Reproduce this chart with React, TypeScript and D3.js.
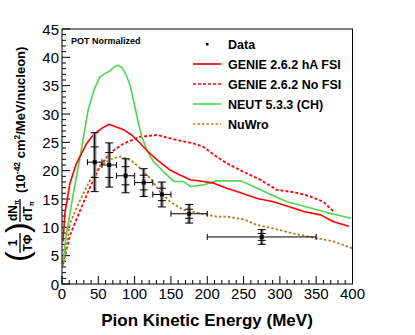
import React from 'react';
import * as d3 from 'd3';

// GENIE 2.6.2 hA FSI (red solid)
const haX = [1.5, 4, 11, 20, 34, 43, 55, 65, 73, 85, 96, 108, 119, 131, 149, 163, 177, 195, 209, 227, 246, 269, 291, 314, 333, 356, 374, 395];
const haY = [7.5, 12.5, 17.8, 21.3, 24.8, 26.3, 27.5, 28.2, 27.8, 27.2, 26.3, 24.8, 23.3, 21.9, 20.1, 19.2, 18.4, 18.1, 17.8, 16.9, 16.1, 15.1, 14.5, 13.6, 12.8, 12.2, 11.0, 10.2];

// GENIE 2.6.2 No FSI (red dashed)
const noFsiX = [1.5, 11, 25, 39, 52, 66, 85, 108, 131, 158, 181, 195, 209, 227, 250, 273, 296, 319, 333, 347, 360, 374];
const noFsiY = [3.5, 8.6, 13, 17.2, 20.7, 23.1, 24.8, 26, 26.3, 25.4, 24.8, 24.2, 22.8, 21.3, 19.8, 18.4, 16.6, 16.2, 15.8, 15.2, 14.5, 12.8];

// NEUT 5.3.3 (CH) (green)
const neutX = [1.5, 5.5, 15, 25, 36, 44, 52, 60, 66, 72, 77, 82, 88, 94, 100, 105, 110, 117, 126, 140, 154, 167, 177, 195, 213, 246, 264, 282, 310, 337, 365, 398];
const neutY = [4, 8.3, 15.5, 22.5, 30.7, 34.2, 36.5, 37.2, 37.6, 38.3, 38.6, 38.3, 37, 35, 31.5, 28.5, 26, 23.6, 21.6, 19.8, 18.1, 18.1, 17.2, 17.5, 18.2, 18.2, 17.2, 16.1, 14.5, 13.6, 12.6, 11.6];

// NuWro (brown dotted)
const nuwroX = [1.5, 11, 25, 39, 52, 66, 80, 94, 108, 121, 135, 149, 167, 200, 213, 227, 250, 269, 291, 319, 347, 374, 400];
const nuwroY = [3, 10.7, 14.8, 18.4, 20.7, 22, 22.5, 21.9, 20.4, 18.7, 16.3, 14.5, 13.1, 12.2, 11.9, 11.9, 11.4, 10.4, 9.8, 8.9, 8.2, 7.5, 6.3];

// Data
const dataX = [45, 65, 87.5, 112.5, 137.5, 175, 275];
const dataXLo = [35, 55, 75, 100, 125, 150, 200];
const dataXHi = [55, 75, 100, 125, 150, 200, 350];
const dataY = [21.5, 21.0, 19.1, 17.9, 15.8, 12.4, 8.3];
const statErr = [2.7, 2.2, 1.6, 1.3, 1.1, 0.8, 0.6];
const totErr = [5.2, 3.9, 3.0, 2.45, 2.2, 1.65, 1.3];

const xTicks = [0, 50, 100, 150, 200, 250, 300, 350, 400];
const yTicks = [0, 5, 10, 15, 20, 25, 30, 35, 40, 45];

const legendItems = [
  { label: 'Data', kind: 'data', color: '#000', dash: '' },
  { label: 'GENIE 2.6.2 hA FSI', kind: 'line', color: '#ff0000', dash: '' },
  { label: 'GENIE 2.6.2 No FSI', kind: 'line', color: '#ff0000', dash: '3,2' },
  { label: 'NEUT 5.3.3 (CH)', kind: 'line', color: '#4fd64f', dash: '' },
  { label: 'NuWro', kind: 'line', color: '#b08020', dash: '2.5,2' },
];

const W = 415, H = 335;
const left = 62, right = 352.5, top = 29, bottom = 284;

export default function App() {
  const x = d3.scaleLinear().domain([0, 400]).range([left, right]);
  const y = d3.scaleLinear().domain([0, 45]).range([bottom, top]);

  const mk = (xs: number[], ys: number[]) =>
    d3.line<number>().x((_, i) => x(xs[i])).y((d) => y(d))(ys) || '';

  const curves = [
    { d: mk(noFsiX, noFsiY), color: '#ff0000', dash: '3,2', w: 1.8 },
    { d: mk(nuwroX, nuwroY), color: '#b08020', dash: '2.5,2', w: 1.8 },
    { d: mk(neutX, neutY), color: '#4fd64f', dash: '', w: 1.6 },
    { d: mk(haX, haY), color: '#ff0000', dash: '', w: 1.6 },
  ];

  const xMinor = d3.range(0, 401, 10);
  const yMinor = d3.range(0, 45.1, 1);
  const font = 'Liberation Sans, Arial, Helvetica, sans-serif';

  return (
    <div style={{ position: 'fixed', left: 0, top: 0 }}>
      <svg width={W} height={H} style={{ display: 'block', background: '#fff' }} fontFamily={font}>
        <rect x={0} y={0} width={W} height={H} fill="#fff" />
        {/* minor ticks */}
        {xMinor.map((t) => (
          <line key={'xm' + t} x1={x(t)} x2={x(t)} y1={bottom} y2={bottom - (t % 50 === 0 ? 8 : 4)} stroke="#000" strokeWidth={1} />
        ))}
        {yMinor.map((t) => (
          <line key={'ym' + t} x1={left} x2={left + (t % 5 === 0 ? 8 : 4)} y1={y(t)} y2={y(t)} stroke="#000" strokeWidth={1} />
        ))}

        {/* curves */}
        {curves.map((c, i) => (
          <path key={i} d={c.d} fill="none" stroke={c.color} strokeWidth={c.w} strokeDasharray={c.dash} strokeLinejoin="round" />
        ))}

        {/* data */}
        {dataX.map((dx, i) => {
          const cx = x(dx), cy = y(dataY[i]);
          const yt = y(dataY[i] + totErr[i]), yb = y(dataY[i] - totErr[i]);
          const st = y(dataY[i] + statErr[i]), sb = y(dataY[i] - statErr[i]);
          return (
            <g key={'d' + i}>
              <line x1={cx} x2={cx} y1={yt} y2={yb} stroke="#999" strokeWidth={3.5} />
              <line x1={x(dataXLo[i])} x2={x(dataXHi[i])} y1={cy} y2={cy} stroke="#000" strokeWidth={1} />
              <line x1={x(dataXLo[i])} x2={x(dataXLo[i])} y1={cy - 3} y2={cy + 3} stroke="#000" strokeWidth={1} />
              <line x1={x(dataXHi[i])} x2={x(dataXHi[i])} y1={cy - 3} y2={cy + 3} stroke="#000" strokeWidth={1} />
              <line x1={cx} x2={cx} y1={yt} y2={yb} stroke="#000" strokeWidth={1} />
              {[yt, yb, st, sb].map((yy, k) => (
                <line key={k} x1={cx - 4} x2={cx + 4} y1={yy} y2={yy} stroke="#000" strokeWidth={1} />
              ))}
              <rect x={cx - 2} y={cy - 2} width={4} height={4} fill="#000" />
            </g>
          );
        })}

        {/* frame */}
        <rect x={left} y={top} width={right - left} height={bottom - top} fill="none" stroke="#000" strokeWidth={1} />

        {/* tick labels */}
        {xTicks.map((t) => (
          <text key={'xl' + t} x={x(t)} y={bottom + 15} fontSize={15} textAnchor="middle">{t}</text>
        ))}
        {yTicks.map((t) => (
          <text key={'yl' + t} x={left - 3} y={y(t) + 5.5} fontSize={15} textAnchor="end">{t}</text>
        ))}

        <text x={207} y={326} fontSize={17} fontWeight="bold" textAnchor="middle">Pion Kinetic Energy (MeV)</text>

        <text x={71} y={44} fontSize={9} fontWeight="bold">POT Normalized</text>

        {/* legend */}
        {legendItems.map((it, i) => {
          const ly = 44 + i * 20;
          return (
            <g key={'lg' + i}>
              {it.kind === 'data' ? (
                <rect x={206} y={ly - 1} width={2.5} height={2.5} fill="#000" />
              ) : (
                <line x1={193} x2={221} y1={ly} y2={ly} stroke={it.color} strokeWidth={1.7} strokeDasharray={it.dash} />
              )}
              <text x={228} y={ly + 4.5} fontSize={12.5} fontWeight="bold">{it.label}</text>
            </g>
          );
        })}

        {/* y-axis label */}
        <g transform="translate(20,147) rotate(-90)" fontWeight="bold">
          <text x={-115} y={8} fontSize={32} fontWeight="normal">(</text>
          <text x={-96} y={-3} fontSize={12} textAnchor="middle">1</text>
          <line x1={-106} x2={-86} y1={0} y2={0} stroke="#000" strokeWidth={1.3} />
          <text x={-96} y={12} fontSize={12} textAnchor="middle">TΦ</text>
          <text x={-86} y={8} fontSize={32} fontWeight="normal">)</text>
          <text x={-74} y={-3} fontSize={12}>dN<tspan fontSize={6.5} dy={2}>π</tspan></text>
          <line x1={-75} x2={-52} y1={0} y2={0} stroke="#000" strokeWidth={1.3} />
          <text x={-74} y={12} fontSize={12}>dT<tspan fontSize={6.5} dy={2}>π</tspan></text>
          <text x={-46} y={4.5} fontSize={13}>(10<tspan fontSize={8.5} dy={-5}>-42</tspan><tspan dy={5}> cm</tspan><tspan fontSize={8.5} dy={-5}>2</tspan><tspan dy={5}>/MeV/nucleon)</tspan></text>
        </g>
      </svg>
    </div>
  );
}
